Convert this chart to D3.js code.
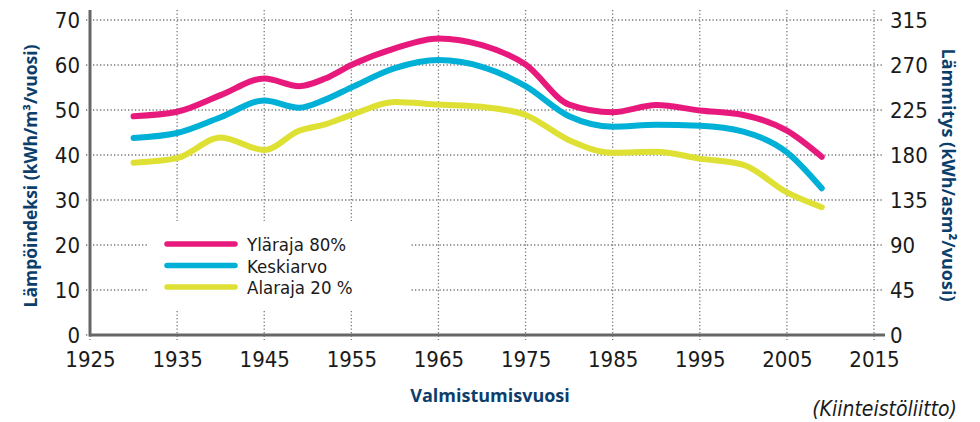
<!DOCTYPE html>
<meta charset="utf-8">
<title>Lämpöindeksi</title>
<script src="https://d3js.org/d3.v7.min.js"></script>
<style>
  body { margin: 0; background: #fff; }
  text { fill: #1a1a1a; }
</style>
<body>
</body>
<script>
// values
var years  = [1930, 1935, 1940, 1945, 1949, 1952, 1955, 1960, 1965, 1970, 1975, 1980, 1985, 1990, 1995, 2000, 2005, 2009];
var ylaraja = [48.6, 49.6, 53.3, 57.0, 55.3, 57.0, 60.0, 63.7, 65.9, 64.4, 60.1, 51.2, 49.5, 51.1, 49.9, 48.9, 45.4, 39.6];
var keskiarvo = [43.8, 44.9, 48.4, 52.1, 50.5, 52.3, 55.0, 59.3, 61.1, 59.6, 55.3, 48.6, 46.3, 46.7, 46.5, 45.2, 40.6, 32.6];
var alaraja = [38.3, 39.3, 43.9, 41.1, 45.4, 46.8, 48.9, 51.8, 51.2, 50.7, 48.9, 43.3, 40.5, 40.7, 39.2, 37.8, 31.7, 28.4];
var xTicks = [1925, 1935, 1945, 1955, 1965, 1975, 1985, 1995, 2005, 2015];
var yTicks = [0, 10, 20, 30, 40, 50, 60, 70];
var y2Ticks = [0, 45, 90, 135, 180, 225, 270, 315];
var seriesNames = ["Yläraja 80%", "Keskiarvo", "Alaraja 20 %"];
var seriesColors = ["#e8197c", "#00b0d6", "#dfe034"];

var width = 980, height = 422;
var numFont = "'Liberation Sans Narrow', 'DejaVu Sans Condensed', sans-serif";

var svg = d3.select("body").append("svg")
    .attr("width", width)
    .attr("height", height);

var x = d3.scaleLinear().domain([1925, 2015]).range([90, 874]);
var y = d3.scaleLinear().domain([0, 70]).range([335, 20]);
var y2 = d3.scaleLinear().domain([0, 315]).range([335, 20]);

// dotted grid
var grid = svg.append("g")
    .attr("stroke", "#777")
    .attr("stroke-width", 1.3)
    .attr("stroke-dasharray", "1.3,2.2");
grid.selectAll(".h").data(yTicks).enter().append("line")
    .attr("x1", 86).attr("x2", 884)
    .attr("y1", function (d) { return y(d); })
    .attr("y2", function (d) { return y(d); });
grid.selectAll(".v").data(xTicks).enter().append("line")
    .attr("x1", function (d) { return x(d); })
    .attr("x2", function (d) { return x(d); })
    .attr("y1", 10).attr("y2", 340);

// legend background hides grid
svg.append("rect")
    .attr("x", 149).attr("y", 221)
    .attr("width", 261).attr("height", 88)
    .attr("fill", "#fff");

// axes lines
svg.append("line")
    .attr("x1", x(1925)).attr("x2", x(1925))
    .attr("y1", 10).attr("y2", y(0) + 1.5)
    .attr("stroke", "#666").attr("stroke-width", 3);
svg.append("line")
    .attr("x1", x(1925)).attr("x2", 885)
    .attr("y1", y(0)).attr("y2", y(0))
    .attr("stroke", "#666").attr("stroke-width", 3);

// tick labels
var leftAxis = svg.append("g")
    .attr("transform", "translate(90,0)")
    .call(d3.axisLeft(y).tickValues(yTicks).tickSize(0).tickPadding(10));
var rightAxis = svg.append("g")
    .attr("transform", "translate(874,0)")
    .call(d3.axisRight(y2).tickValues(y2Ticks).tickSize(0).tickPadding(16));
var bottomAxis = svg.append("g")
    .attr("transform", "translate(0,335)")
    .call(d3.axisBottom(x).tickValues(xTicks).tickFormat(d3.format("d")).tickSize(0).tickPadding(16));
[leftAxis, rightAxis, bottomAxis].forEach(function (a) {
  a.select(".domain").remove();
  a.selectAll("text")
    .style("font-family", numFont)
    .style("font-size", "22px")
    .attr("fill", "#1a1a1a");
});

// curves
var line = d3.line()
    .x(function (d) { return x(d[0]); })
    .y(function (d) { return y(d[1]); })
    .curve(d3.curveMonotoneX);
[ylaraja, keskiarvo, alaraja].forEach(function (vals, i) {
  svg.append("path")
    .datum(years.map(function (yr, j) { return [yr, vals[j]]; }))
    .attr("d", line)
    .attr("fill", "none")
    .attr("stroke", seriesColors[i])
    .attr("stroke-width", 6)
    .attr("stroke-linecap", "round")
    .attr("stroke-linejoin", "round");
});

// legend
var legend = svg.append("g");
seriesNames.forEach(function (name, i) {
  var ly = 244 + i * 21.5;
  legend.append("line")
    .attr("x1", 167).attr("x2", 235)
    .attr("y1", ly).attr("y2", ly)
    .attr("stroke", seriesColors[i])
    .attr("stroke-width", 5.5)
    .attr("stroke-linecap", "round");
  legend.append("text")
    .attr("x", 247).attr("y", ly + 7)
    .style("font-family", numFont)
    .style("font-size", "18.5px")
    .text(name);
});

// axis titles
var titleFont = "'Open Sans', 'DejaVu Sans', sans-serif";
svg.append("text")
    .attr("transform", "translate(37,176) rotate(-90)")
    .attr("text-anchor", "middle")
    .style("font-family", titleFont)
    .style("font-weight", "bold")
    .style("font-size", "17.5px")
    .style("fill", "#0c3e6c")
    .text("Lämpöindeksi (kWh/m³/vuosi)");
svg.append("text")
    .attr("transform", "translate(942,175) rotate(90)")
    .attr("text-anchor", "middle")
    .style("font-family", titleFont)
    .style("font-weight", "bold")
    .style("font-size", "18px")
    .style("fill", "#0c3e6c")
    .text("Lämmitys (kWh/asm²/vuosi)");
svg.append("text")
    .attr("x", 490).attr("y", 402)
    .attr("text-anchor", "middle")
    .style("font-family", titleFont)
    .style("font-weight", "bold")
    .style("font-size", "18px")
    .style("fill", "#0c3e6c")
    .text("Valmistumisvuosi");
svg.append("text")
    .attr("x", 957).attr("y", 416)
    .attr("text-anchor", "end")
    .style("font-family", numFont)
    .style("font-style", "italic")
    .style("font-size", "21px")
    .style("fill", "#1a1a1a")
    .text("(Kiinteistöliitto)");
</script>
